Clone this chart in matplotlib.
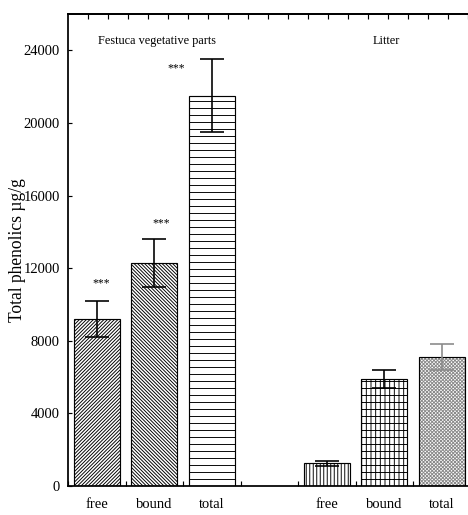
import matplotlib
matplotlib.use("Agg")
import matplotlib.pyplot as plt

# ---- data ----
categories = ["free", "bound", "total", "free", "bound", "total"]
positions = [0, 1, 2, 4, 5, 6]
values = [9200, 12280, 21500, 1250, 5900, 7120]
errors = [980, 1330, 2000, 130, 500, 710]
groups = ["Festuca vegetative parts", "Litter"]
group_x = [1.04, 5.03]
group_y = 24500
star_x = [0.08, 1.12, 1.38]
star_y = [11150, 14450, 23000]
yticks = [0, 4000, 8000, 12000, 16000, 20000, 24000]

hatches = ["////////", "\\\\\\\\\\\\\\\\", "--", "||||", "++|", "xxxxxxxx"]
hatch_colors = ["black", "black", "black", "black", "black", "#8a8a8a"]
err_colors = ["black", "black", "black", "black", "black", "#8a8a8a"]

DPI = 84
plt.rcParams["font.family"] = ["Liberation Serif", "DejaVu Serif"]
plt.rcParams["hatch.linewidth"] = 0.8

fig = plt.figure(figsize=(468 / DPI, 515 / DPI), dpi=DPI)
ax = fig.add_axes([68 / 468, 1 - 486 / 515, (470.5 - 68) / 468, (486 - 14) / 515])

for p, v, h, hc in zip(positions, values, hatches, hatch_colors):
    ax.bar(p, v, width=0.8, facecolor="white", edgecolor=hc, hatch=h, linewidth=0, zorder=2)
    ax.bar(p, v, width=0.8, facecolor="none", edgecolor="black", linewidth=1.0, zorder=3)

for p, v, e, c in zip(positions, values, errors, err_colors):
    ax.errorbar(p, v, yerr=e, fmt="none", ecolor=c, elinewidth=1.4, capsize=10,
                capthick=1.4, zorder=4)

for sx, sy in zip(star_x, star_y):
    ax.text(sx, sy, "***", ha="center", va="center", fontsize=10)

for gx, g in zip(group_x, groups):
    ax.text(gx, group_y, g, ha="center", va="center", fontsize=10.5)

ax.set_xlim(-0.5, 6.5)
ax.set_ylim(0, 26000)
ax.set_yticks(yticks)
ax.set_yticklabels([str(t) for t in yticks])
ax.tick_params(axis="y", direction="in", length=3, width=1, labelsize=12.5, pad=7, right=True)

ax.set_xticks(positions)
ax.set_xticklabels(categories)
ax.set_xticks([-0.5, 0.5, 1.5, 2.5, 3.5, 4.5, 5.5], minor=True)
ax.tick_params(axis="x", which="major", length=0, labelsize=12.5, pad=10.5)
ax.tick_params(axis="x", which="minor", direction="in", length=4, width=1)

unit = 20 / 57.5
sec = ax.secondary_xaxis("top", functions=(lambda x: (x + 0.5) / unit, lambda t: t * unit - 0.5))
sec.set_xticks(range(1, 21))
sec.tick_params(direction="in", length=4, width=1, labeltop=False)
sec.spines["top"].set_linewidth(1.5)

for s in ax.spines.values():
    s.set_linewidth(1.5)

ax.set_ylabel("Total phenolics \u00b5g/g", fontsize=15)
ax.yaxis.set_label_coords(-0.105, 0.5)

fig.savefig("out.png", dpi=DPI)
